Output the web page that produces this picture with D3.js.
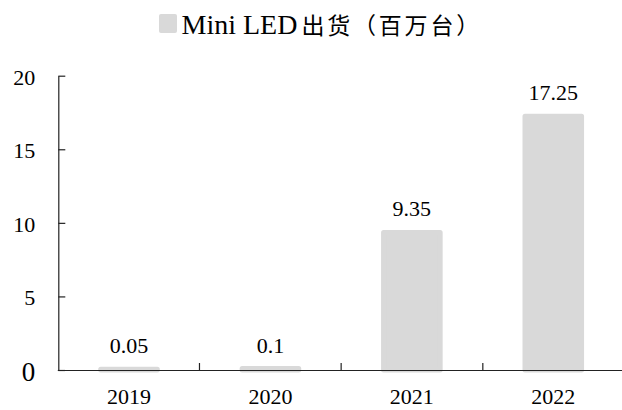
<!DOCTYPE html>
<html>
<head>
<meta charset="utf-8">
<script src="https://cdn.jsdelivr.net/npm/d3@7"></script>
<style>
  html, body { margin: 0; padding: 0; background: #fff; }
  svg { display: block; }
  text { font-family: "Liberation Serif", "Times New Roman", Times, "Tinos", "DejaVu Serif", serif; fill: #000; }
</style>
</head>
<body>
<svg id="chart" width="622" height="410"></svg>
<script>
// Mini LED shipments by year (million units)
const years = ["2019", "2020", "2021", "2022"];
const shipments = [0.05, 0.1, 9.35, 17.25];
const yTicks = [0, 5, 10, 15, 20];
const seriesName = ["Mini LED", "出货（百万台）"];

const barColor = "#d9d9d9";
const axisColor = "#222";
const serif = "'Liberation Serif', 'Times New Roman', Times, Tinos, 'DejaVu Serif', serif";

const svg = d3.select("#chart");
const plotLeft = 58.3, plotRight = 624, plotTop = 75.7, plotBottom = 370;

const x = d3.scaleBand().domain(years).range([plotLeft, plotRight])
  .paddingInner(0.6).paddingOuter(0.3);
const y = d3.scaleLinear().domain([0, 20]).range([plotBottom, plotTop]);

const rows = years.map((yr, i) => ({ yr, v: shipments[i] }));

// bars: a thick rounded stroke of the fill colour softens the corners
svg.append("g").selectAll("rect")
  .data(rows)
  .join("rect")
  .attr("x", d => x(d.yr))
  .attr("y", d => y(d.v))
  .attr("width", x.bandwidth())
  .attr("height", d => y(0) - y(d.v))
  .attr("fill", barColor)
  .attr("stroke", barColor)
  .attr("stroke-width", 5)
  .attr("stroke-linejoin", "round");

// value labels above each bar
svg.append("g").selectAll("text")
  .data(rows)
  .join("text")
  .attr("x", d => x(d.yr) + x.bandwidth() / 2)
  .attr("y", d => y(d.v) - 16)
  .attr("text-anchor", "middle")
  .style("font-family", serif)
  .style("font-size", "22px")
  .text(d => String(d.v));

// y axis, ticks pointing into the plot
const yAxis = svg.append("g")
  .attr("transform", `translate(${plotLeft},0)`)
  .call(d3.axisLeft(y).tickValues(yTicks).tickSizeInner(-7).tickSizeOuter(0).tickPadding(23));
yAxis.select(".domain").attr("stroke", axisColor).attr("stroke-width", 1.2);
yAxis.selectAll(".tick line").attr("stroke", axisColor).attr("stroke-width", 1.2);
yAxis.selectAll(".tick text")
  .attr("fill", "#000")
  .style("font-family", serif)
  .style("font-size", d => d === 0 ? "27px" : "22px")
  .attr("dy", d => d === 0 ? "0.37em" : "0.38em");

// x axis line with ticks between categories
const xBounds = d3.scaleLinear().domain([0, years.length]).range([plotLeft - 1, plotRight]);
const xLine = svg.append("g")
  .attr("transform", `translate(0,${plotBottom})`)
  .call(d3.axisBottom(xBounds).tickValues(d3.range(1, years.length))
    .tickSizeInner(-7).tickSizeOuter(0).tickFormat(""));
xLine.select(".domain").attr("stroke", axisColor).attr("stroke-width", 1.2);
xLine.selectAll(".tick line").attr("stroke", axisColor).attr("stroke-width", 1.2);

// category labels
const xLabels = svg.append("g")
  .attr("transform", `translate(0,${plotBottom})`)
  .call(d3.axisBottom(x).tickSize(0).tickPadding(18.7));
xLabels.select(".domain").remove();
xLabels.selectAll(".tick text")
  .attr("fill", "#000")
  .style("font-family", serif)
  .style("font-size", "22px");

// legend
const legend = svg.append("g");
legend.append("rect")
  .attr("x", 159).attr("y", 14).attr("width", 18).attr("height", 19)
  .attr("rx", 2).attr("fill", barColor);
const lt = legend.append("text").attr("x", 181.5).attr("y", 33.5);
lt.append("tspan").style("font-family", serif).style("font-size", "28px").text(seriesName[0]);
lt.append("tspan").attr("dx", 4).style("font-size", "23px")
  .style("letter-spacing", "2.8px")
  .style("font-family", "'Noto Sans CJK SC', sans-serif")
  .text(seriesName[1]);
</script>
</body>
</html>
